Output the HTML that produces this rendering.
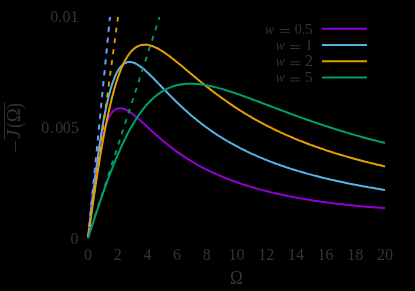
<!DOCTYPE html>
<html><head><meta charset="utf-8"><title>plot</title>
<style>
html,body{margin:0;padding:0;background:#000;}
body{width:415px;height:291px;overflow:hidden;}
svg{display:block;}
text{font-family:"Liberation Serif",serif;fill:#3a3535;}
.it{font-style:italic;}
</style></head><body>
<svg width="415" height="291" viewBox="0 0 415 291">
<rect x="0" y="0" width="415" height="291" fill="#000"/>
<path d="M88.0 238.0 L89.9 219.8 L91.7 203.0 L93.6 187.7 L95.4 174.0 L97.3 161.8 L99.1 151.2 L101.0 142.1 L102.8 134.4 L104.7 127.9 L106.6 122.6 L108.4 118.3 L110.3 114.9 L112.1 112.3 L114.0 110.5 L115.8 109.2 L117.7 108.5 L119.6 108.2 L121.4 108.3 L123.3 108.7 L125.1 109.3 L127.0 110.3 L128.8 111.3 L130.7 112.6 L132.6 113.9 L134.4 115.4 L136.3 117.0 L138.1 118.6 L140.0 120.2 L141.8 121.9 L143.7 123.6 L145.5 125.3 L147.4 127.0 L149.3 128.7 L151.1 130.4 L153.0 132.1 L154.8 133.8 L156.7 135.4 L158.5 137.0 L160.4 138.6 L162.2 140.2 L164.1 141.8 L166.0 143.3 L167.8 144.8 L169.7 146.3 L171.5 147.7 L173.4 149.1 L175.2 150.5 L177.1 151.8 L179.0 153.1 L180.8 154.4 L182.7 155.7 L184.5 156.9 L186.4 158.1 L188.2 159.3 L190.1 160.4 L191.9 161.6 L193.8 162.7 L195.7 163.7 L197.5 164.8 L199.4 165.8 L201.2 166.8 L203.1 167.8 L204.9 168.8 L206.8 169.7 L208.7 170.6 L210.5 171.5 L212.4 172.4 L214.2 173.2 L216.1 174.1 L217.9 174.9 L219.8 175.7 L221.7 176.5 L223.5 177.2 L225.4 178.0 L227.2 178.7 L229.1 179.4 L230.9 180.1 L232.8 180.8 L234.6 181.5 L236.5 182.2 L238.4 182.8 L240.2 183.4 L242.1 184.1 L243.9 184.7 L245.8 185.3 L247.6 185.8 L249.5 186.4 L251.3 187.0 L253.2 187.5 L255.1 188.0 L256.9 188.6 L258.8 189.1 L260.6 189.6 L262.5 190.1 L264.3 190.6 L266.2 191.0 L268.1 191.5 L269.9 192.0 L271.8 192.4 L273.6 192.9 L275.5 193.3 L277.3 193.7 L279.2 194.1 L281.0 194.5 L282.9 194.9 L284.8 195.3 L286.6 195.7 L288.5 196.1 L290.3 196.4 L292.2 196.8 L294.0 197.2 L295.9 197.5 L297.8 197.9 L299.6 198.2 L301.5 198.5 L303.3 198.8 L305.2 199.2 L307.0 199.5 L308.9 199.8 L310.8 200.1 L312.6 200.4 L314.5 200.7 L316.3 200.9 L318.2 201.2 L320.0 201.5 L321.9 201.8 L323.7 202.0 L325.6 202.3 L327.5 202.5 L329.3 202.8 L331.2 203.0 L333.0 203.2 L334.9 203.5 L336.7 203.7 L338.6 203.9 L340.4 204.1 L342.3 204.3 L344.2 204.6 L346.0 204.8 L347.9 205.0 L349.7 205.2 L351.6 205.3 L353.4 205.5 L355.3 205.7 L357.2 205.9 L359.0 206.1 L360.9 206.2 L362.7 206.4 L364.6 206.6 L366.4 206.7 L368.3 206.9 L370.1 207.0 L372.0 207.2 L373.9 207.3 L375.7 207.4 L377.6 207.6 L379.4 207.7 L381.3 207.8 L383.1 207.9 L385.0 208.0" fill="none" stroke="#9400d3" stroke-width="2" stroke-linejoin="round" stroke-linecap="butt"/>
<path d="M88.0 238.0 L89.9 221.5 L91.7 205.4 L93.6 189.9 L95.4 175.0 L97.3 160.9 L99.1 147.7 L101.0 135.6 L102.8 124.4 L104.7 114.3 L106.6 105.3 L108.4 97.3 L110.3 90.2 L112.1 84.1 L114.0 79.0 L115.8 74.6 L117.7 71.0 L119.6 68.1 L121.4 65.9 L123.3 64.2 L125.1 63.0 L127.0 62.3 L128.8 62.0 L130.7 62.0 L132.6 62.4 L134.4 63.0 L136.3 63.9 L138.1 65.0 L140.0 66.2 L141.8 67.6 L143.7 69.1 L145.5 70.7 L147.4 72.4 L149.3 74.2 L151.1 76.0 L153.0 77.8 L154.8 79.7 L156.7 81.7 L158.5 83.6 L160.4 85.5 L162.2 87.5 L164.1 89.4 L166.0 91.3 L167.8 93.2 L169.7 95.1 L171.5 97.0 L173.4 98.8 L175.2 100.7 L177.1 102.5 L179.0 104.3 L180.8 106.0 L182.7 107.8 L184.5 109.5 L186.4 111.1 L188.2 112.8 L190.1 114.4 L191.9 116.0 L193.8 117.5 L195.7 119.1 L197.5 120.6 L199.4 122.0 L201.2 123.5 L203.1 124.9 L204.9 126.3 L206.8 127.7 L208.7 129.0 L210.5 130.3 L212.4 131.6 L214.2 132.9 L216.1 134.1 L217.9 135.3 L219.8 136.5 L221.7 137.7 L223.5 138.8 L225.4 139.9 L227.2 141.0 L229.1 142.1 L230.9 143.2 L232.8 144.2 L234.6 145.2 L236.5 146.2 L238.4 147.2 L240.2 148.2 L242.1 149.1 L243.9 150.0 L245.8 150.9 L247.6 151.8 L249.5 152.7 L251.3 153.6 L253.2 154.4 L255.1 155.2 L256.9 156.1 L258.8 156.9 L260.6 157.6 L262.5 158.4 L264.3 159.2 L266.2 159.9 L268.1 160.7 L269.9 161.4 L271.8 162.1 L273.6 162.8 L275.5 163.5 L277.3 164.1 L279.2 164.8 L281.0 165.5 L282.9 166.1 L284.8 166.7 L286.6 167.4 L288.5 168.0 L290.3 168.6 L292.2 169.2 L294.0 169.7 L295.9 170.3 L297.8 170.9 L299.6 171.4 L301.5 172.0 L303.3 172.5 L305.2 173.0 L307.0 173.6 L308.9 174.1 L310.8 174.6 L312.6 175.1 L314.5 175.6 L316.3 176.0 L318.2 176.5 L320.0 177.0 L321.9 177.5 L323.7 177.9 L325.6 178.4 L327.5 178.8 L329.3 179.2 L331.2 179.7 L333.0 180.1 L334.9 180.5 L336.7 180.9 L338.6 181.3 L340.4 181.7 L342.3 182.1 L344.2 182.5 L346.0 182.9 L347.9 183.3 L349.7 183.7 L351.6 184.0 L353.4 184.4 L355.3 184.8 L357.2 185.1 L359.0 185.5 L360.9 185.8 L362.7 186.2 L364.6 186.5 L366.4 186.8 L368.3 187.2 L370.1 187.5 L372.0 187.8 L373.9 188.1 L375.7 188.5 L377.6 188.8 L379.4 189.1 L381.3 189.4 L383.1 189.7 L385.0 190.0" fill="none" stroke="#56b4e9" stroke-width="2" stroke-linejoin="round" stroke-linecap="butt"/>
<path d="M88.0 238.0 L89.9 224.8 L91.7 211.7 L93.6 198.9 L95.4 186.5 L97.3 174.4 L99.1 162.8 L101.0 151.7 L102.8 141.1 L104.7 131.1 L106.6 121.7 L108.4 112.9 L110.3 104.7 L112.1 97.2 L114.0 90.2 L115.8 83.8 L117.7 78.1 L119.6 72.8 L121.4 68.2 L123.3 64.0 L125.1 60.4 L127.0 57.2 L128.8 54.4 L130.7 52.0 L132.6 50.0 L134.4 48.4 L136.3 47.1 L138.1 46.1 L140.0 45.4 L141.8 44.9 L143.7 44.7 L145.5 44.7 L147.4 44.8 L149.3 45.2 L151.1 45.7 L153.0 46.3 L154.8 47.1 L156.7 48.0 L158.5 48.9 L160.4 50.0 L162.2 51.2 L164.1 52.4 L166.0 53.7 L167.8 55.0 L169.7 56.4 L171.5 57.8 L173.4 59.2 L175.2 60.7 L177.1 62.2 L179.0 63.7 L180.8 65.2 L182.7 66.8 L184.5 68.3 L186.4 69.9 L188.2 71.4 L190.1 73.0 L191.9 74.5 L193.8 76.1 L195.7 77.6 L197.5 79.2 L199.4 80.7 L201.2 82.2 L203.1 83.7 L204.9 85.2 L206.8 86.7 L208.7 88.1 L210.5 89.6 L212.4 91.0 L214.2 92.4 L216.1 93.8 L217.9 95.2 L219.8 96.5 L221.7 97.9 L223.5 99.2 L225.4 100.5 L227.2 101.8 L229.1 103.1 L230.9 104.4 L232.8 105.6 L234.6 106.9 L236.5 108.1 L238.4 109.3 L240.2 110.5 L242.1 111.6 L243.9 112.8 L245.8 113.9 L247.6 115.0 L249.5 116.1 L251.3 117.2 L253.2 118.3 L255.1 119.3 L256.9 120.4 L258.8 121.4 L260.6 122.4 L262.5 123.4 L264.3 124.4 L266.2 125.3 L268.1 126.3 L269.9 127.2 L271.8 128.1 L273.6 129.1 L275.5 130.0 L277.3 130.8 L279.2 131.7 L281.0 132.6 L282.9 133.4 L284.8 134.3 L286.6 135.1 L288.5 135.9 L290.3 136.7 L292.2 137.5 L294.0 138.3 L295.9 139.1 L297.8 139.8 L299.6 140.6 L301.5 141.3 L303.3 142.0 L305.2 142.8 L307.0 143.5 L308.9 144.2 L310.8 144.9 L312.6 145.5 L314.5 146.2 L316.3 146.9 L318.2 147.5 L320.0 148.2 L321.9 148.8 L323.7 149.4 L325.6 150.1 L327.5 150.7 L329.3 151.3 L331.2 151.9 L333.0 152.5 L334.9 153.1 L336.7 153.6 L338.6 154.2 L340.4 154.8 L342.3 155.3 L344.2 155.9 L346.0 156.4 L347.9 156.9 L349.7 157.5 L351.6 158.0 L353.4 158.5 L355.3 159.0 L357.2 159.5 L359.0 160.0 L360.9 160.5 L362.7 161.0 L364.6 161.5 L366.4 161.9 L368.3 162.4 L370.1 162.9 L372.0 163.3 L373.9 163.8 L375.7 164.2 L377.6 164.7 L379.4 165.1 L381.3 165.5 L383.1 166.0 L385.0 166.4" fill="none" stroke="#e69f00" stroke-width="2" stroke-linejoin="round" stroke-linecap="butt"/>
<path d="M88.0 238.0 L89.9 232.3 L91.7 226.6 L93.6 220.9 L95.4 215.3 L97.3 209.8 L99.1 204.3 L101.0 198.9 L102.8 193.6 L104.7 188.3 L106.6 183.2 L108.4 178.2 L110.3 173.3 L112.1 168.5 L114.0 163.8 L115.8 159.3 L117.7 154.9 L119.6 150.6 L121.4 146.5 L123.3 142.5 L125.1 138.7 L127.0 135.0 L128.8 131.5 L130.7 128.1 L132.6 124.9 L134.4 121.8 L136.3 118.8 L138.1 116.0 L140.0 113.3 L141.8 110.8 L143.7 108.4 L145.5 106.2 L147.4 104.0 L149.3 102.1 L151.1 100.2 L153.0 98.4 L154.8 96.8 L156.7 95.3 L158.5 93.9 L160.4 92.6 L162.2 91.4 L164.1 90.3 L166.0 89.3 L167.8 88.4 L169.7 87.6 L171.5 86.9 L173.4 86.3 L175.2 85.7 L177.1 85.2 L179.0 84.8 L180.8 84.5 L182.7 84.2 L184.5 84.0 L186.4 83.8 L188.2 83.7 L190.1 83.7 L191.9 83.7 L193.8 83.8 L195.7 83.9 L197.5 84.0 L199.4 84.2 L201.2 84.4 L203.1 84.7 L204.9 85.0 L206.8 85.3 L208.7 85.7 L210.5 86.1 L212.4 86.5 L214.2 86.9 L216.1 87.4 L217.9 87.9 L219.8 88.4 L221.7 88.9 L223.5 89.4 L225.4 90.0 L227.2 90.6 L229.1 91.2 L230.9 91.8 L232.8 92.4 L234.6 93.0 L236.5 93.6 L238.4 94.3 L240.2 94.9 L242.1 95.6 L243.9 96.3 L245.8 96.9 L247.6 97.6 L249.5 98.3 L251.3 99.0 L253.2 99.7 L255.1 100.4 L256.9 101.1 L258.8 101.8 L260.6 102.5 L262.5 103.2 L264.3 103.9 L266.2 104.6 L268.1 105.3 L269.9 106.0 L271.8 106.7 L273.6 107.4 L275.5 108.1 L277.3 108.8 L279.2 109.5 L281.0 110.2 L282.9 110.9 L284.8 111.6 L286.6 112.3 L288.5 113.0 L290.3 113.7 L292.2 114.4 L294.0 115.0 L295.9 115.7 L297.8 116.4 L299.6 117.1 L301.5 117.7 L303.3 118.4 L305.2 119.0 L307.0 119.7 L308.9 120.3 L310.8 121.0 L312.6 121.6 L314.5 122.3 L316.3 122.9 L318.2 123.5 L320.0 124.1 L321.9 124.8 L323.7 125.4 L325.6 126.0 L327.5 126.6 L329.3 127.2 L331.2 127.8 L333.0 128.4 L334.9 129.0 L336.7 129.5 L338.6 130.1 L340.4 130.7 L342.3 131.3 L344.2 131.8 L346.0 132.4 L347.9 132.9 L349.7 133.5 L351.6 134.0 L353.4 134.6 L355.3 135.1 L357.2 135.6 L359.0 136.1 L360.9 136.7 L362.7 137.2 L364.6 137.7 L366.4 138.2 L368.3 138.7 L370.1 139.2 L372.0 139.7 L373.9 140.2 L375.7 140.6 L377.6 141.1 L379.4 141.6 L381.3 142.1 L383.1 142.5 L385.0 143.0" fill="none" stroke="#009e73" stroke-width="2" stroke-linejoin="round" stroke-linecap="butt"/>
<path d="M88.0 238.0 L109.8 17.0" fill="none" stroke="#9400d3" stroke-width="1.8" stroke-dasharray="4.9 6.02" stroke-dashoffset="0.9"/>
<path d="M88.0 238.0 L110.0 17.0" fill="none" stroke="#56b4e9" stroke-width="1.8" stroke-dasharray="4.9 6.02" stroke-dashoffset="0.0"/>
<path d="M88.0 238.0 L118.0 17.0" fill="none" stroke="#e69f00" stroke-width="1.8" stroke-dasharray="4.9 6.02" stroke-dashoffset="0.0"/>
<path d="M88.0 238.0 L159.6 17.0" fill="none" stroke="#009e73" stroke-width="1.8" stroke-dasharray="4.9 6.02" stroke-dashoffset="0.0"/>
<g style="opacity:0.995">
<path d="M322 28.8 H367" stroke="#9400d3" stroke-width="2"/>
<text transform="matrix(0.1405 0 0 0.1522 294.84 33.60)" font-size="100">0</text>
<circle cx="303.5" cy="33.1" r="0.8" fill="#3a3535"/>
<text transform="matrix(0.1525 0 0 0.1545 304.98 33.75)" font-size="100">5</text>
<path d="M279.4 29.5 H289.9 M279.4 32.3 H289.9" stroke="#3a3535" stroke-width="0.9"/>
<text transform="matrix(0.1397 0 0 0.1426 264.78 33.76)" font-size="100" class="it">w</text>
<path d="M322 45.0 H367" stroke="#56b4e9" stroke-width="2"/>
<text transform="matrix(0.1457 0 0 0.1545 305.29 50.10)" font-size="100">1</text>
<path d="M290.0 45.7 H300.5 M290.0 48.5 H300.5" stroke="#3a3535" stroke-width="0.9"/>
<text transform="matrix(0.1397 0 0 0.1426 275.38 49.96)" font-size="100" class="it">w</text>
<path d="M322 61.2 H367" stroke="#e69f00" stroke-width="2"/>
<text transform="matrix(0.1600 0 0 0.1569 305.06 66.30)" font-size="100">2</text>
<path d="M290.0 61.9 H300.5 M290.0 64.7 H300.5" stroke="#3a3535" stroke-width="0.9"/>
<text transform="matrix(0.1397 0 0 0.1426 275.38 66.16)" font-size="100" class="it">w</text>
<path d="M322 77.4 H367" stroke="#009e73" stroke-width="2"/>
<text transform="matrix(0.1525 0 0 0.1545 304.98 82.35)" font-size="100">5</text>
<path d="M290.0 78.1 H300.5 M290.0 80.9 H300.5" stroke="#3a3535" stroke-width="0.9"/>
<text transform="matrix(0.1397 0 0 0.1426 275.38 82.36)" font-size="100" class="it">w</text>
<text x="88.0" y="260" font-size="16" text-anchor="middle">0</text>
<text x="117.7" y="260" font-size="16" text-anchor="middle">2</text>
<text x="147.4" y="260" font-size="16" text-anchor="middle">4</text>
<text x="177.1" y="260" font-size="16" text-anchor="middle">6</text>
<text x="206.8" y="260" font-size="16" text-anchor="middle">8</text>
<text x="236.5" y="260" font-size="16" text-anchor="middle">10</text>
<text x="266.2" y="260" font-size="16" text-anchor="middle">12</text>
<text x="295.9" y="260" font-size="16" text-anchor="middle">14</text>
<text x="325.6" y="260" font-size="16" text-anchor="middle">16</text>
<text x="355.3" y="260" font-size="16" text-anchor="middle">18</text>
<text x="385.0" y="260" font-size="16" text-anchor="middle">20</text>
<text x="50.3 57.9 62.6 70.6" y="21.6" font-size="16">0.01</text>
<text x="41.2 49.9 55.2 62.8 70.9" y="132.5" font-size="16">0.005</text>
<text x="70.4" y="244" font-size="16">0</text>
<text transform="matrix(0.1734 0 0 0.1985 229.93 283.70)" font-size="100">&#937;</text>
<text transform="matrix(0 -0.1769 0.2067 0 21.46 108.93)" font-size="100">)</text>
<text transform="matrix(0 -0.1875 0.1908 0 20.20 122.34)" font-size="100">&#937;</text>
<text transform="matrix(0 -0.1615 0.2067 0 21.46 127.65)" font-size="100">(</text>
<text transform="matrix(0 -0.2022 0.1879 0 20.41 138.70)" font-size="100" class="it">J</text>
<path d="M15.5 141 V151.7 M4.5 102.2 V139.7" stroke="#3a3535" stroke-width="0.9" fill="none"/>
</g>
</svg></body></html>
